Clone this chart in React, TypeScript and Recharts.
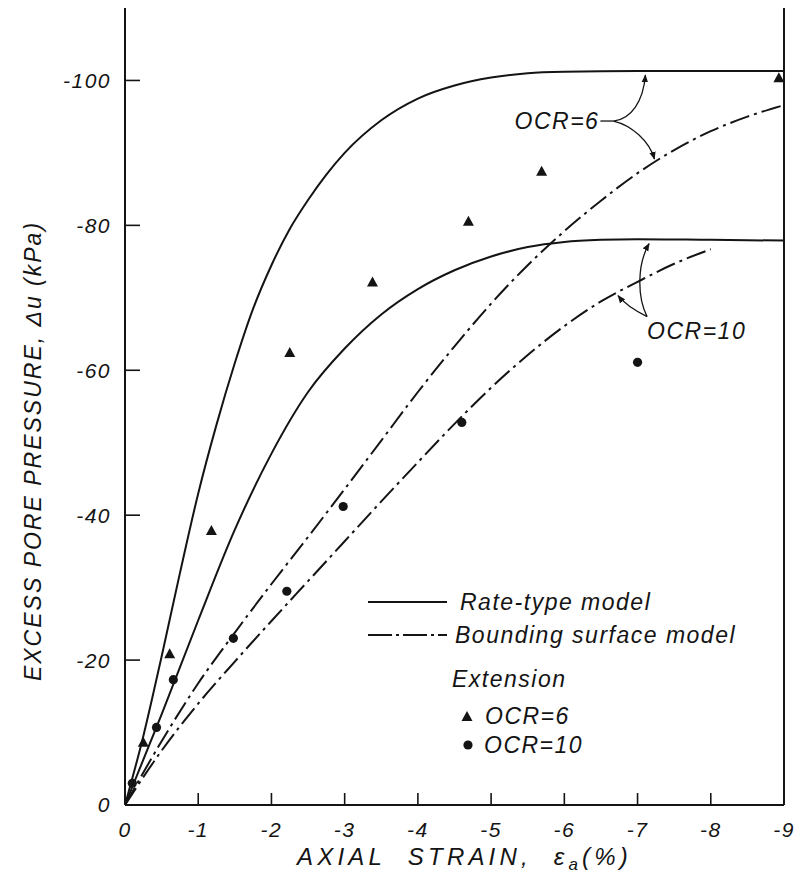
import React from 'react';
import { ComposedChart, Line, Scatter, XAxis, YAxis, Legend, ReferenceDot } from 'recharts';

const FONT = "'Liberation Sans', Arial, sans-serif";
const INK = '#141414';

// axis ticks (strain in %, pore pressure in kPa)
const xTicks = [0, -1, -2, -3, -4, -5, -6, -7, -8, -9];
const yTicks = [0, -20, -40, -60, -80, -100];

// Rate-type model curves
const rateOcr6 = [
    { x: 0, y: 0 }, { x: -0.25, y: -9.5 }, { x: -0.5, y: -20.5 }, { x: -0.75, y: -32 },
    { x: -1.0, y: -43 }, { x: -1.25, y: -52.5 }, { x: -1.5, y: -61 }, { x: -1.75, y: -68.5 },
    { x: -2.0, y: -74.5 }, { x: -2.25, y: -79.5 }, { x: -2.5, y: -83.5 }, { x: -2.75, y: -87 },
    { x: -3.0, y: -90 }, { x: -3.5, y: -94.5 }, { x: -4.0, y: -97.5 }, { x: -4.5, y: -99.3 },
    { x: -5.0, y: -100.4 }, { x: -5.5, y: -101 }, { x: -6.0, y: -101.2 }, { x: -7, y: -101.3 },
    { x: -9, y: -101.3 },
];
const rateOcr10 = [
    { x: 0, y: 0 }, { x: -0.5, y: -12.5 }, { x: -1.0, y: -25.5 }, { x: -1.5, y: -38 },
    { x: -2.0, y: -48.5 }, { x: -2.5, y: -57 }, { x: -3.0, y: -63 }, { x: -3.5, y: -67.7 },
    { x: -4.0, y: -71.2 }, { x: -4.5, y: -73.8 }, { x: -5.0, y: -75.7 }, { x: -5.5, y: -77 },
    { x: -6.0, y: -77.7 }, { x: -6.5, y: -78 }, { x: -7, y: -78.1 }, { x: -8, y: -78 },
    { x: -9, y: -77.9 },
];

// Bounding surface model curves
const boundOcr6 = [
    { x: 0, y: 0 }, { x: -0.5, y: -8.8 }, { x: -1.0, y: -16.8 }, { x: -1.5, y: -23.8 },
    { x: -2.0, y: -30.5 }, { x: -2.5, y: -37 }, { x: -3.0, y: -43.6 }, { x: -3.5, y: -50.3 },
    { x: -4.0, y: -57 }, { x: -4.5, y: -63.3 }, { x: -5.0, y: -69.2 }, { x: -5.5, y: -74.5 },
    { x: -6.0, y: -79.2 }, { x: -6.5, y: -83.4 }, { x: -7.0, y: -87.2 }, { x: -7.5, y: -90.4 },
    { x: -8.0, y: -93 }, { x: -8.5, y: -95 }, { x: -9, y: -96.6 },
];
const boundOcr10 = [
    { x: 0, y: 0 }, { x: -0.5, y: -7.5 }, { x: -1.0, y: -14 }, { x: -1.5, y: -19.8 },
    { x: -2.0, y: -25.4 }, { x: -2.5, y: -30.9 }, { x: -3.0, y: -36.4 }, { x: -3.5, y: -41.9 },
    { x: -4.0, y: -47.3 }, { x: -4.5, y: -52.6 }, { x: -5.0, y: -57.6 }, { x: -5.5, y: -62.1 },
    { x: -6.0, y: -66.1 }, { x: -6.5, y: -69.5 }, { x: -7.0, y: -72.2 }, { x: -7.5, y: -74.7 },
    { x: -8.0, y: -76.7 },
];

// Extension test data
const testOcr6 = [
    { x: -0.25, y: -8.6 }, { x: -0.61, y: -20.8 }, { x: -1.18, y: -37.8 }, { x: -2.25, y: -62.4 },
    { x: -3.38, y: -72.1 }, { x: -4.69, y: -80.5 }, { x: -5.69, y: -87.4 }, { x: -8.93, y: -100.3 },
];
const testOcr10 = [
    { x: -0.1, y: -3.0 }, { x: -0.43, y: -10.7 }, { x: -0.66, y: -17.3 }, { x: -1.48, y: -23.0 },
    { x: -2.21, y: -29.5 }, { x: -2.98, y: -41.2 }, { x: -4.6, y: -52.8 }, { x: -7.0, y: -61.1 },
];

const DASH_DOT = '20 5 3 5';

const textStyle = { fontFamily: FONT, fontStyle: 'italic' as const, fill: INK };

const Triangle = (props: any) => {
    const { cx, cy } = props;
    return <polygon points={`${cx},${cy - 6} ${cx - 5.5},${cy + 4} ${cx + 5.5},${cy + 4}`} fill={INK} />;
};

const Dot = (props: any) => <circle cx={props.cx} cy={props.cy} r={4.6} fill={INK} />;

const ArrowDefs = () => (
    <defs>
        <marker id="ah" viewBox="0 0 10 10" refX="9" refY="5" markerWidth="8" markerHeight="8" markerUnits="userSpaceOnUse" orient="auto">
            <path d="M0,1 L10,5 L0,9 z" fill={INK} />
        </marker>
    </defs>
);

const Ocr6Note = ({ cx, cy }: any) => (
    <g>
        <ArrowDefs />
        <text x={cx - 14} y={cy + 8} textAnchor="end" fontSize={23} letterSpacing={1.5} {...textStyle}>OCR=6</text>
        <line x1={cx - 13} y1={cy} x2={cx} y2={cy} stroke={INK} strokeWidth={1.3} />
        <path d={`M${cx},${cy} C${cx + 18},${cy - 2} ${cx + 30},${cy - 20} ${cx + 32},${cy - 46}`} fill="none" stroke={INK} strokeWidth={1.3} markerEnd="url(#ah)" />
        <path d={`M${cx},${cy} C${cx + 18},${cy + 4} ${cx + 36},${cy + 20} ${cx + 41},${cy + 38}`} fill="none" stroke={INK} strokeWidth={1.3} markerEnd="url(#ah)" />
    </g>
);

const Ocr10Note = ({ cx, cy }: any) => (
    <g>
        <text x={cx} y={cy + 22} fontSize={23} letterSpacing={1.5} {...textStyle}>OCR=10</text>
        <path d={`M${cx},${cy} C${cx - 10},${cy - 20} ${cx - 10},${cy - 52} ${cx + 2},${cy - 73}`} fill="none" stroke={INK} strokeWidth={1.3} markerEnd="url(#ah)" />
        <path d={`M${cx},${cy} C${cx - 12},${cy - 6} ${cx - 22},${cy - 12} ${cx - 29},${cy - 21}`} fill="none" stroke={INK} strokeWidth={1.3} markerEnd="url(#ah)" />
    </g>
);

const renderLegend = () => (
    <svg width={420} height={180} style={{ overflow: 'visible', display: 'block' }}>
        <line x1={8} y1={17} x2={87} y2={17} stroke={INK} strokeWidth={2} />
        <text x={100} y={25} fontSize={23} letterSpacing={1.5} {...textStyle}>Rate-type model</text>
        <line x1={8} y1={50} x2={87} y2={50} stroke={INK} strokeWidth={2} strokeDasharray="24 4 3 4" />
        <text x={95} y={58} fontSize={23} letterSpacing={1.5} {...textStyle}>Bounding surface model</text>
        <text x={92} y={102} fontSize={23} letterSpacing={1.5} {...textStyle}>Extension</text>
        <Triangle cx={107} cy={132} />
        <text x={125} y={139} fontSize={23} letterSpacing={1.5} {...textStyle}>OCR=6</text>
        <Dot cx={108} cy={160} />
        <text x={124} y={168} fontSize={23} letterSpacing={1.5} {...textStyle}>OCR=10</text>
    </svg>
);

const renderXTitle = (props: any) => {
    const vb = props.viewBox || { x: 125, y: 805, width: 659 };
    return (
        <text x={vb.x + vb.width / 2 + 10} y={vb.y + 60} textAnchor="middle" fontSize={24} letterSpacing={4.2} {...textStyle}>
            AXIAL{'\u00a0\u00a0'}STRAIN,{'\u00a0\u00a0'}ε<tspan fontSize={17} dy={5}>a</tspan><tspan dy={-5}>(%)</tspan>
        </text>
    );
};

const renderYTitle = (props: any) => {
    const vb = props.viewBox || { x: 0, y: 8 };
    const cx = vb.x + 33;
    const cy = vb.y + 443;
    return (
        <text x={cx} y={cy} transform={`rotate(-90, ${cx}, ${cy})`} textAnchor="middle" dominantBaseline="central" fontSize={23} letterSpacing={2} {...textStyle}>
            EXCESS PORE PRESSURE, Δu (kPa)
        </text>
    );
};

const tickStyle = { fill: INK, fontSize: 21, fontStyle: 'italic', fontFamily: FONT, letterSpacing: 1.5 };
const axisLine = { stroke: INK, strokeWidth: 2 };
const tickLine = { stroke: INK, strokeWidth: 1.6 };

export default function App() {
    return (
        <div style={{ position: 'absolute', left: 0, top: 0, background: '#fff' }}>
            <ComposedChart width={798} height={887} margin={{ top: 8, right: 0, bottom: 42, left: 0 }}>
                <XAxis
                    type="number" dataKey="x" domain={[-9, 0]} reversed ticks={xTicks}
                    tickFormatter={(v: number) => String(v)}
                    tick={tickStyle} axisLine={axisLine} tickLine={tickLine}
                    tickSize={-12} tickMargin={29} height={40} interval={0}
                    label={{ content: renderXTitle }}
                />
                <XAxis
                    xAxisId="top" orientation="top" type="number" domain={[-9, 0]} reversed ticks={xTicks}
                    tickFormatter={() => ''} axisLine={axisLine} tickLine={tickLine}
                    tickSize={-12} height={0} interval={0}
                />
                <YAxis
                    type="number" domain={[-110, 0]} reversed ticks={yTicks}
                    tickFormatter={(v: number) => String(v)}
                    tick={tickStyle} axisLine={axisLine} tickLine={tickLine}
                    tickSize={-15} tickMargin={29} width={125} interval={0}
                    label={{ content: renderYTitle }}
                />
                <YAxis
                    yAxisId="right" orientation="right" type="number" domain={[-110, 0]} reversed ticks={yTicks}
                    tickFormatter={() => ''} axisLine={axisLine} tickLine={tickLine}
                    tickSize={-15} width={14} interval={0}
                />
                <Legend content={renderLegend} layout="horizontal" verticalAlign="middle" align="center"
                    wrapperStyle={{ left: 360, top: 585, width: 420, height: 180 }} />

                <Line data={rateOcr6} dataKey="y" type="monotone" stroke={INK} strokeWidth={2} dot={false} activeDot={false} isAnimationActive={false} />
                <Line data={rateOcr10} dataKey="y" type="monotone" stroke={INK} strokeWidth={2} dot={false} activeDot={false} isAnimationActive={false} />
                <Line data={boundOcr6} dataKey="y" type="monotone" stroke={INK} strokeWidth={2} strokeDasharray={DASH_DOT} dot={false} activeDot={false} isAnimationActive={false} />
                <Line data={boundOcr10} dataKey="y" type="monotone" stroke={INK} strokeWidth={2} strokeDasharray={DASH_DOT} dot={false} activeDot={false} isAnimationActive={false} />

                <Scatter data={testOcr6} dataKey="y" shape={Triangle} isAnimationActive={false} />
                <Scatter data={testOcr10} dataKey="y" shape={Dot} isAnimationActive={false} />

                <ReferenceDot x={-6.67} y={-94.4} r={0} shape={Ocr6Note} />
                <ReferenceDot x={-7.13} y={-67.4} r={0} shape={Ocr10Note} />
            </ComposedChart>
        </div>
    );
}
